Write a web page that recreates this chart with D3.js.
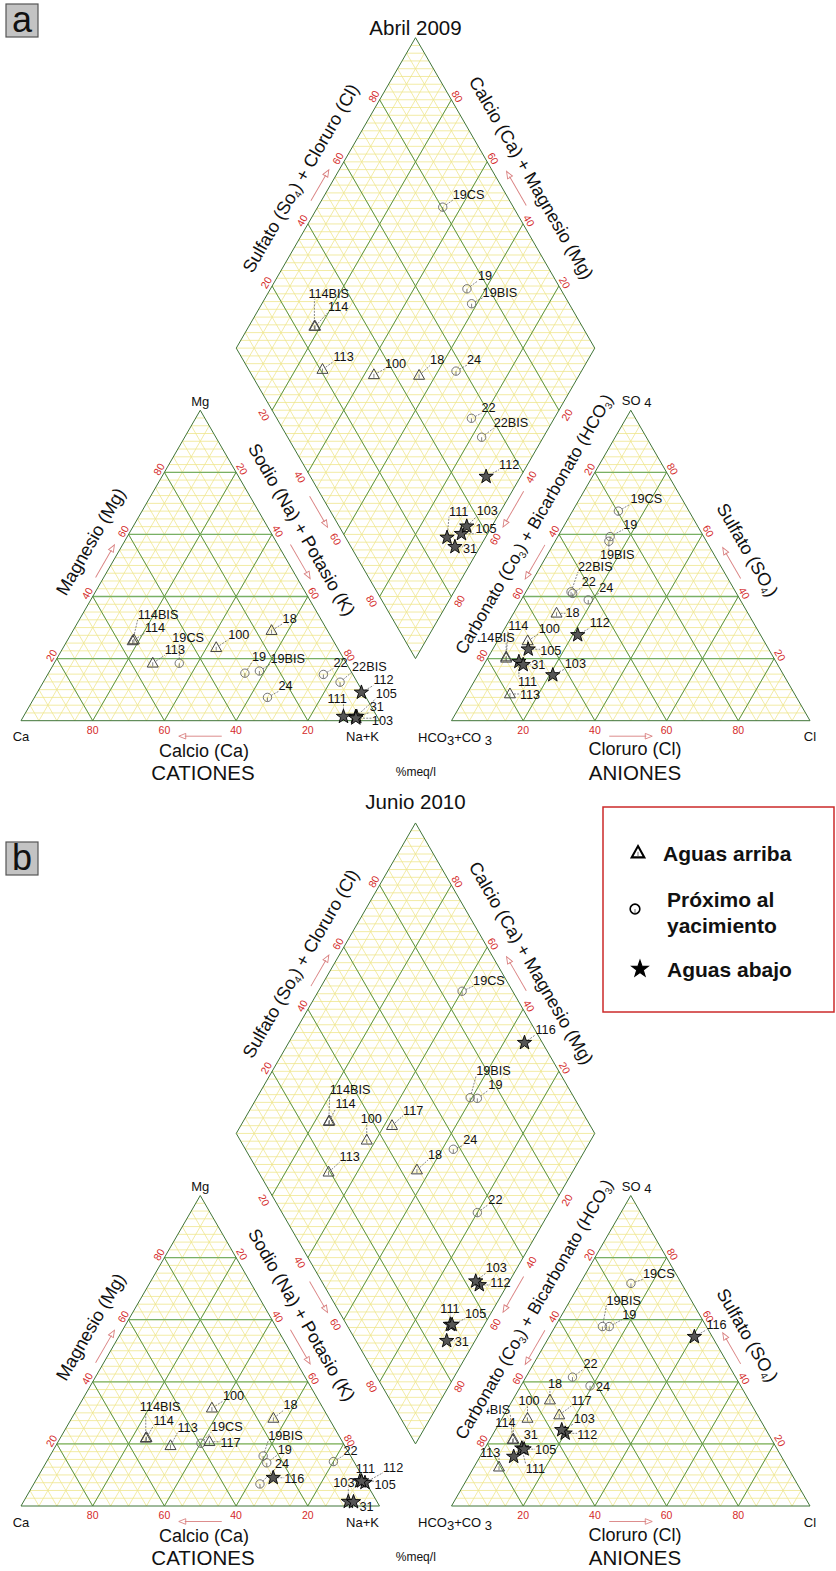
<!DOCTYPE html>
<html><head><meta charset="utf-8">
<script src="https://cdnjs.cloudflare.com/ajax/libs/d3/7.8.5/d3.min.js"></script>
<style>body{margin:0;background:#fff} svg{display:block} text{font-family:"Liberation Sans",Arial,Helvetica,sans-serif}</style>
</head><body><svg id="c" width="836" height="1571"></svg>
<script>
// ---------------- DATA ----------------
const ticks = [20, 40, 60, 80];
const groups = ["arriba", "proximo", "abajo"];
const legendLabels = [["Aguas arriba"], ["Próximo al", "yacimiento"], ["Aguas abajo"]];

// Panel a: Abril 2009 (percent meq/l)
const samplesA = ["114BIS","114","113","19CS","100","18","19","19BIS","24","22","22BIS","112","105","111","31","103"];
const groupA   = ["arriba","arriba","arriba","proximo","arriba","arriba","proximo","proximo","proximo","proximo","proximo","abajo","abajo","abajo","abajo","abajo"];
const caA   = [56.0,55.5,54.0,46.6,33.8,15.6,29.9,25.5,27.5, 8.2, 4.8, 0.5, 6.0, 9.4, 5.7, 6.2];
const mgA   = [25.7,26.0,18.5,18.5,23.5,29.0,15.3,16.0, 7.5,14.9,12.4, 9.1, 1.3, 1.3, 1.3, 0.8];
const nakA  = [18.3,18.5,27.5,34.9,42.7,55.4,54.8,58.5,65.0,76.9,82.8,90.4,92.7,89.3,93.0,93.0];
const hco3A = [74.7,74.5,79.4,19.7,65.9,53.4,26.1,27.2,42.4,45.7,45.9,51.0,67.1,71.7,71.0,64.4];
const so4A  = [20.1,20.5, 8.6,67.5,25.7,34.6,59.3,57.8,38.9,41.0,41.5,27.6,23.0,19.0,18.0,14.7];
const clA   = [ 5.2, 5.0,12.0,12.8, 8.4,12.0,14.6,15.0,18.7,13.3,12.6,21.4, 9.9, 9.3,11.0,20.9];

// Panel b: Junio 2010
const samplesB = ["114BIS","114","113","19CS","117","100","18","19BIS","19","24","116","22","111","112","105","103","31"];
const groupB   = ["arriba","arriba","arriba","proximo","arriba","arriba","arriba","proximo","proximo","proximo","abajo","proximo","abajo","abajo","abajo","abajo","abajo"];
const caB   = [54.3,54.0,48.6,39.7,37.1,31.0,15.5,24.4,24.5,29.8,25.1, 5.7, 1.5, 0.3, 1.0, 8.0, 6.6];
const mgB   = [21.8,22.0,19.4,20.2,20.7,31.5,28.2,16.1,13.9, 7.1, 9.1,14.3, 8.0, 7.5, 8.0, 1.4, 1.3];
const nakB  = [23.9,24.0,32.0,40.1,42.2,37.5,56.3,59.5,61.6,63.1,65.8,80.0,90.5,92.2,91.0,90.6,92.1];
const hco3B = [72.3,72.0,80.5,14.1,55.3,64.7,55.5,29.0,27.1,42.0, 5.0,45.5,71.1,56.6,70.6,57.0,74.7];
const so4B  = [21.3,21.5,12.5,71.7,29.3,28.2,34.1,57.8,57.8,38.7,54.5,41.5,18.6,23.4,18.3,24.5,15.9];
const clB   = [ 6.4, 6.5, 7.0,14.2,15.4, 7.1,10.4,13.2,15.1,19.3,40.5,13.0,10.3,20.0,11.1,18.5, 9.4];

// ---------------- LAYOUT (label offsets from marker, px) ----------------
const offCatA = [[5,-26],[11,-12],[12,-13],[-7,-25],[12,-13],[11,-12],[7,-16],[11,-12],[11,-11],[10,-11],[12,-15.3],[12,-12],[20,-22.7],[-16,-18],[13,-9.2],[16,3]];
const offAnA  = [[-32,-20],[2,-31],[10,1],[12,-12],[11,-12],[9,0],[13,-12],[-9,14],[11,-12],[9,-11],[7,-25],[12,-12],[12,2],[-1,20],[8,0],[12,-11]];
const offDiaA = [[-6,-32],[13,-19],[11,-13],[10,-12],[11,-11],[11,-15],[11,-13],[11,-11],[11,-11],[10,-10],[12,-14],[13,-12],[14,-5],[2,-26],[8,2],[10,-15]];
const offCatB = [[-6,-31],[7,-17],[7,-18],[10,-16],[11,1],[11,-12],[10,-13],[5,-20],[11,-13],[15,-20],[11,1],[10,-11],[-4,-12],[18,-15],[13,4],[-15,-19],[6,5]];
const offAnB  = [[-43,-30],[-18,-16],[-19,-14],[12,-9],[12,-14],[-9,-17],[-2,-16],[4,-26],[13,-12],[6,1],[12,-12],[11,-13],[4,21],[12,2],[11,1],[12,-11],[10,-22]];
const offDiaB = [[1,-32],[6,-17],[11,-15],[11,-10],[11,-15],[-6,-21],[11,-15],[6,-27],[11,-13],[10,-9],[11,-13],[11,-13],[-10,-16],[11,-2],[13,-11],[10,-13],[8,1]];

// ---------------- DRAWING ----------------
const svg = d3.select("#c");
const L = 358.5, TH = L * Math.sqrt(3) / 2;
const frac = d3.scaleLinear().domain([0, 100]).range([0, 1]);
const fine = d3.range(5, 100, 5);
const fineH = d3.range(2.5, 100, 2.5);
const C_Y = "#efe68e", C_G = "#5a954a", C_E = "#3f7438", C_R = "#d42a2a", C_A = "#d98080";

function lerp(A, B, f) { return [A[0] + (B[0] - A[0]) * f, A[1] + (B[1] - A[1]) * f]; }
function outward(A, B, cen) {
  const dx = B[0] - A[0], dy = B[1] - A[1], len = Math.hypot(dx, dy);
  let n = [dy / len, -dx / len];
  const m = lerp(A, B, 0.5);
  if ((m[0] - cen[0]) * n[0] + (m[1] - cen[1]) * n[1] < 0) n = [-n[0], -n[1]];
  return n;
}
function edgePt(A, B, f, off, cen) { const p = lerp(A, B, f), n = outward(A, B, cen); return [p[0] + n[0] * off, p[1] + n[1] * off]; }

function line(g, a, b, col, w) {
  g.append("line").attr("x1", a[0]).attr("y1", a[1]).attr("x2", b[0]).attr("y2", b[1])
    .attr("stroke", col).attr("stroke-width", w);
}

function triGrid(g, pt) {
  const y = g.append("g"), gr = g.append("g");
  fineH.forEach(v => { const f = frac(v); line(y, pt(0, f), pt(1 - f, f), C_Y, 0.8); });
  fine.forEach(v => { const f = frac(v);
    line(y, pt(f, 0), pt(f, 1 - f), C_Y, 0.8);
    line(y, pt(1 - f, 0), pt(0, 1 - f), C_Y, 0.8); });
  ticks.forEach(v => { const f = frac(v);
    line(gr, pt(0, f), pt(1 - f, f), "#78b066", 1.3);
    line(gr, pt(f, 0), pt(f, 1 - f), C_G, 1);
    line(gr, pt(1 - f, 0), pt(0, 1 - f), C_G, 1); });
  g.append("path").attr("d", "M" + pt(0, 0) + "L" + pt(1, 0) + "L" + pt(0, 1) + "Z")
    .attr("fill", "none").attr("stroke", C_E).attr("stroke-width", 1);
}

function diaGrid(g, dpt) {
  const y = g.append("g"), gr = g.append("g");
  d3.range(2.5, 200, 2.5).forEach(v => { const h = frac(v);
    const c0 = Math.max(0, h - 1), c1 = Math.min(1, h);
    line(y, dpt(c0, h - c0), dpt(c1, h - c1), C_Y, 0.8); });
  fine.forEach(v => { const f = frac(v);
    line(y, dpt(f, 0), dpt(f, 1), C_Y, 0.8);
    line(y, dpt(0, f), dpt(1, f), C_Y, 0.8); });
  ticks.forEach(v => { const f = frac(v);
    line(gr, dpt(f, 0), dpt(f, 1), C_G, 1);
    line(gr, dpt(0, f), dpt(1, f), C_G, 1); });
  g.append("path").attr("d", "M" + dpt(0, 0) + "L" + dpt(1, 0) + "L" + dpt(1, 1) + "L" + dpt(0, 1) + "Z")
    .attr("fill", "none").attr("stroke", C_E).attr("stroke-width", 1);
}

function tickLabels(g, A, B, cen, off, rot) {
  ticks.forEach(v => {
    const p = edgePt(A, B, frac(v), off, cen);
    g.append("text").attr("transform", `translate(${p[0]},${p[1]}) rotate(${rot})`)
      .attr("text-anchor", "middle").attr("dominant-baseline", "central")
      .attr("font-size", 10.5).attr("fill", C_R).text(v);
  });
}

function arrow(g, A, B, cen, off, f0, f1) {
  const p0 = edgePt(A, B, f0, off, cen), p1 = edgePt(A, B, f1, off, cen);
  const ang = Math.atan2(p1[1] - p0[1], p1[0] - p0[0]) * 180 / Math.PI;
  const len = Math.hypot(p1[0] - p0[0], p1[1] - p0[1]);
  const a = g.append("g").attr("transform", `translate(${p0[0]},${p0[1]}) rotate(${ang})`);
  a.append("line").attr("x1", 0).attr("y1", 0).attr("x2", len - 6).attr("y2", 0).attr("stroke", C_A).attr("stroke-width", 0.9);
  a.append("path").attr("d", `M${len - 7},-2.8L${len},0L${len - 7},2.8Z`).attr("fill", "none").attr("stroke", C_A).attr("stroke-width", 0.9);
}

function axisTitle(g, A, B, cen, f, off, rot, parts, fs) {
  const p = edgePt(A, B, f, off, cen);
  const gg = g.append("g").attr("transform", `translate(${p[0]},${p[1]}) rotate(${rot})`);
  const bg = gg.append("rect").attr("fill", "#fff");
  const t = gg.append("text").attr("text-anchor", "middle").attr("dominant-baseline", "central").attr("font-size", fs || 18).attr("fill", "#111");
  let sub = false;
  parts.forEach(s => {
    if (s.startsWith("_")) { t.append("tspan").attr("font-size", 10).attr("dy", 5).text(s.slice(1)); sub = true; }
    else { const ts = t.append("tspan").text(s); if (sub) { ts.attr("dy", -5); sub = false; } }
  });
  const w = t.node().getComputedTextLength();
  bg.attr("x", -w / 2 - 1).attr("y", -10).attr("width", w + 2).attr("height", 20);
}

function marker(g, type, p, legend) {
  const s = legend ? 1.15 : 1;
  const m = g.append("g").attr("transform", `translate(${p[0]},${p[1]}) scale(${s})`);
  if (type === "arriba") {
    m.append("path").attr("d", "M0,-6L5.5,3.8L-5.5,3.8Z").attr("fill", "none").attr("stroke", legend ? "#000" : "#444").attr("stroke-width", legend ? 1.8 : 1);
    m.append("line").attr("x1", 0).attr("y1", -1).attr("x2", 0).attr("y2", 3).attr("stroke", "#666").attr("stroke-width", 0.8);
  } else if (type === "proximo") {
    m.append("circle").attr("r", 4.2).attr("fill", "none").attr("stroke", legend ? "#000" : "#666").attr("stroke-width", legend ? 1.4 : 0.9);
    m.append("line").attr("x1", 0).attr("y1", 0).attr("x2", 0).attr("y2", 4).attr("stroke", "#666").attr("stroke-width", 0.8);
  } else {
    const pts = d3.range(10).map(k => { const r = k % 2 ? 3 : 7.5, a = -Math.PI / 2 + k * Math.PI / 5; return [r * Math.cos(a), r * Math.sin(a)]; });
    m.append("path").attr("d", "M" + pts.join("L") + "Z").attr("fill", legend ? "#000" : "#555").attr("stroke", "#000").attr("stroke-width", legend ? 1 : 0.9);
  }
}

function plotSamples(gL, gM, gT, pts, names, grp, offs) {
  pts.forEach((p, i) => marker(gM, grp[i], p, false));
  pts.forEach((p, i) => {
    const o = offs[i];
    const lx = p[0] + o[0], ly = p[1] + o[1];
    const t = gT.append("text").attr("x", lx).attr("y", ly).attr("dominant-baseline", "central")
      .attr("font-size", 12.7).attr("fill", "#111").text(names[i]);
    const w = t.node().getComputedTextLength();
    const nx = Math.max(lx, Math.min(p[0], lx + w)), ny = Math.max(ly - 5, Math.min(p[1], ly + 5));
    const d = Math.hypot(nx - p[0], ny - p[1]);
    if (d > 7) {
      const sx = p[0] + (nx - p[0]) / d * 4, sy = p[1] + (ny - p[1]) / d * 4;
      gL.append("line").attr("x1", sx).attr("y1", sy).attr("x2", nx).attr("y2", ny)
        .attr("stroke", "#555").attr("stroke-width", 0.7).attr("stroke-dasharray", "2,1.2");
    }
  });
}

function panel(P) {
  const dy = P.dy, base = 720.7 + dy;
  const CaV = [21, base], NaV = [21 + L, base], MgV = [21 + L / 2, base - TH];
  const HcV = [451.5, base], ClV = [451.5 + L, base], SoV = [451.5 + L / 2, base - TH];
  const DB = [415.5, base - 0.2 * TH], DL = [DB[0] - L / 2, DB[1] - TH], DT = [DB[0], DB[1] - 2 * TH], DR = [DB[0] + L / 2, DB[1] - TH];
  const cenC = [MgV[0], base - TH / 3], cenA = [SoV[0], base - TH / 3], cenD = [DB[0], DB[1] - TH];
  const catPt = (r, t) => [CaV[0] + L * (r + t / 2), base - TH * t];
  const anPt = (r, t) => [HcV[0] + L * (r + t / 2), base - TH * t];
  const diaPt = (cm, sc) => [DB[0] + L * 0.5 * (sc - cm), DB[1] - TH * (sc + cm)];

  const g = svg.append("g");
  const gGrid = g.append("g"), gDec = g.append("g"), gLead = g.append("g"), gMark = g.append("g"), gTxt = g.append("g"), gTitle = g.append("g"), gTop = g.append("g");
  triGrid(gGrid.append("g"), catPt);
  triGrid(gGrid.append("g"), anPt);
  diaGrid(gGrid.append("g"), diaPt);

  tickLabels(gDec, NaV, CaV, cenC, 9, 0);
  tickLabels(gDec, CaV, MgV, cenC, 6.5, -60);
  tickLabels(gDec, MgV, NaV, cenC, 7, 60);
  tickLabels(gDec, HcV, ClV, cenA, 9, 0);
  tickLabels(gDec, SoV, HcV, cenA, 6.5, -60);
  tickLabels(gDec, ClV, SoV, cenA, 7, 60);
  tickLabels(gDec, DL, DT, cenD, 7, -60);
  tickLabels(gDec, DR, DT, cenD, 7, 60);
  tickLabels(gDec, DL, DB, cenD, 9, 60);
  tickLabels(gDec, DR, DB, cenD, 9, -60);

  arrow(gDec, NaV, CaV, cenC, 15.5, 0.44, 0.56);
  arrow(gDec, CaV, MgV, cenC, 7, 0.45, 0.555);
  arrow(gDec, MgV, NaV, cenC, 11, 0.45, 0.56);
  arrow(gDec, HcV, ClV, cenA, 15.5, 0.44, 0.56);
  arrow(gDec, SoV, HcV, cenA, 7, 0.445, 0.555);
  arrow(gDec, ClV, SoV, cenA, 11, 0.44, 0.54);
  arrow(gDec, DL, DT, cenD, 9, 0.46, 0.56);
  arrow(gDec, DR, DT, cenD, 12, 0.44, 0.55);
  arrow(gDec, DL, DB, cenD, 10.5, 0.46, 0.56);
  arrow(gDec, DR, DB, cenD, 10, 0.445, 0.56);

  const vt = (gg, x, y, s, fs) => gg.append("text").attr("x", x).attr("y", y).attr("text-anchor", "middle").attr("dominant-baseline", "central").attr("font-size", fs || 13).attr("fill", "#111").text(s);
  vt(gDec, CaV[0], base + 16, "Ca");
  vt(gDec, NaV[0] - 17, base + 16, "Na+K");
  vt(gDec, MgV[0], MgV[1] - 9, "Mg");
  vt(gDec, ClV[0], base + 16, "Cl");
  const hc = gDec.append("text").attr("x", 418).attr("y", base + 16).attr("dominant-baseline", "central").attr("font-size", 13).attr("fill", "#111");
  hc.append("tspan").text("HCO");
  hc.append("tspan").attr("dy", 3).text("3");
  hc.append("tspan").attr("dy", -3).text("+CO ");
  hc.append("tspan").attr("dy", 3).text("3");
  const so = gTop.append("text").attr("x", SoV[0] - 9).attr("y", SoV[1] - 10).attr("dominant-baseline", "central").attr("font-size", 13).attr("fill", "#111");
  so.append("tspan").text("SO ");
  so.append("tspan").attr("dy", 2).text("4");
  vt(gDec, 415.8, base + 51, "%meq/l", 12);

  vt(gDec, 204, base + 30, "Calcio (Ca)", 18);
  vt(gDec, 203, base + 51.5, "CATIONES", 20.5);
  vt(gDec, 635, base + 28.5, "Cloruro (Cl)", 18);
  vt(gDec, 635, base + 51.5, "ANIONES", 20.5);

  const n = P.samples.length;
  const cat = d3.range(n).map(i => catPt(frac(P.nak[i]), frac(P.mg[i])));
  const an = d3.range(n).map(i => anPt(frac(P.cl[i]), frac(P.so4[i])));
  const dia = d3.range(n).map(i => diaPt(frac(P.ca[i] + P.mg[i]), frac(P.so4[i] + P.cl[i])));
  plotSamples(gLead, gMark, gTxt, cat, P.samples, P.group, P.offCat);
  plotSamples(gLead, gMark, gTxt, an, P.samples, P.group, P.offAn);
  plotSamples(gLead, gMark, gTxt, dia, P.samples, P.group, P.offDia);

  axisTitle(gTitle, CaV, MgV, cenC, 0.53, 29, -60, ["Magnesio (Mg)"]);
  axisTitle(gTitle, MgV, NaV, cenC, 0.43, 28, 60, ["Sodio (Na) + Potasio (K)"]);
  axisTitle(gTitle, HcV, SoV, cenA, 0.59, 27, -60, ["Carbonato (Co", "_3", ") + Bicarbonato (HCO", "_3", ")"], 17.3);
  axisTitle(gTitle, SoV, ClV, cenA, 0.5, 31, 60, ["Sulfato (SO", "_4", ")"]);
  axisTitle(gTitle, DL, DT, cenD, 0.5, 29, -60, ["Sulfato (So", "_4", ") + Cloruro (Cl)"]);
  axisTitle(gTitle, DR, DT, cenD, 0.5, 30, 60, ["Calcio (Ca) + Magnesio (Mg)"]);

  svg.append("text").attr("x", 415.5).attr("y", P.titleY).attr("text-anchor", "middle").attr("dominant-baseline", "central")
    .attr("font-size", 20.5).attr("fill", "#111").text(P.title);
  svg.append("rect").attr("x", 6).attr("y", P.letterY).attr("width", 32).attr("height", 33)
    .attr("fill", "#c3c3c3").attr("stroke", "#555").attr("stroke-width", 1.2);
  svg.append("text").attr("x", 22).attr("y", P.letterY + 15).attr("text-anchor", "middle").attr("dominant-baseline", "central")
    .attr("font-size", 36).attr("fill", "#111").text(P.letter);
}

panel({ dy: 0, title: "Abril 2009", titleY: 27.5, letter: "a", letterY: 4,
  samples: samplesA, group: groupA, ca: caA, mg: mgA, nak: nakA, hco3: hco3A, so4: so4A, cl: clA,
  offCat: offCatA, offAn: offAnA, offDia: offDiaA });
panel({ dy: 785.3, title: "Junio 2010", titleY: 801.7, letter: "b", letterY: 842,
  samples: samplesB, group: groupB, ca: caB, mg: mgB, nak: nakB, hco3: hco3B, so4: so4B, cl: clB,
  offCat: offCatB, offAn: offAnB, offDia: offDiaB });

// legend
const lg = svg.append("g");
lg.append("rect").attr("x", 603).attr("y", 807).attr("width", 231).attr("height", 205)
  .attr("fill", "#fff").attr("stroke", "#cc2a2a").attr("stroke-width", 1.5);
const legY = [853, 909, 969];
const legX = [638, 635, 640];
groups.forEach((gname, i) => {
  marker(lg, gname, [legX[i], legY[i]], true);
  const lines = legendLabels[i];
  lines.forEach((s, k) => {
    lg.append("text").attr("x", i === 0 ? 663 : 667).attr("y", lines.length > 1 ? legY[i] - 10 + k * 26 : legY[i])
      .attr("dominant-baseline", "central").attr("font-size", 21).attr("font-weight", "bold").attr("fill", "#111").text(s);
  });
});
</script></body></html>
